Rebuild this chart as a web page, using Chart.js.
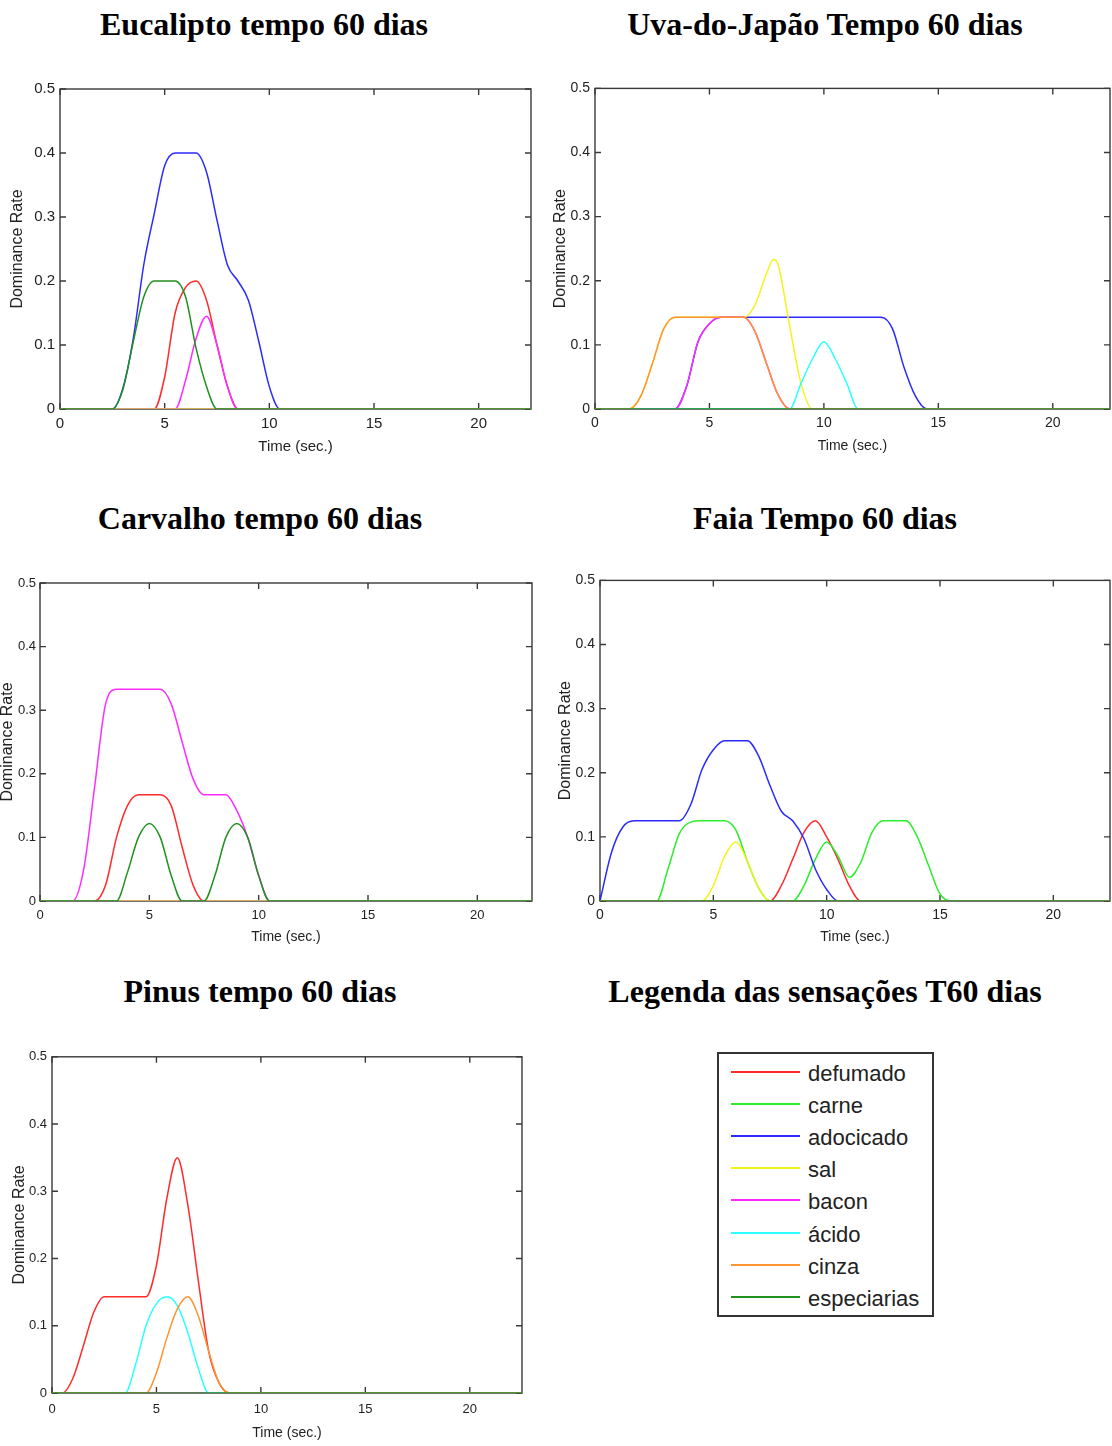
<!DOCTYPE html>
<html>
<head>
<meta charset="utf-8">
<script src="https://cdn.jsdelivr.net/npm/chart.js@4.4.1/dist/chart.umd.min.js"></script>
<style>
  body { margin: 0; width: 1112px; height: 1446px; background: #fff; position: relative; overflow: hidden; }
  .titulo { position: absolute; transform: translate(-50%, -50%); white-space: nowrap; line-height: 1;
            font: bold 32px 'Liberation Serif', 'Times New Roman', serif; color: #000; }
  canvas.painel { position: absolute; }
  #legenda { position: absolute; left: 717px; top: 1052px; width: 213px; height: 261px;
             border: 2px solid #333; font: 22px 'Liberation Sans', Arial, sans-serif; color: #222; }
  #legenda .item { position: absolute; left: 0; height: 0; }
  #legenda .traco { position: absolute; left: 12px; width: 69px; height: 0; border-top: 2px solid; top: -1px; }
  #legenda .nome { position: absolute; left: 89px; top: -11px; white-space: nowrap; }
</style>
</head>
<body>
<div id="legenda"></div>
<script>
// sensations, in drawing order (last one ends up on top)
const sensacoes = ['defumado', 'carne', 'adocicado', 'sal', 'bacon', 'ácido', 'cinza', 'especiarias'];
const cores = ['#ff2b2b', '#2bee2b', '#2b2bff', '#f4f41c', '#ff2bff', '#2bffff', '#ff9433', '#21901f'];

const xTicks = [0, 5, 10, 15, 20];
const yTicks = [0, 0.1, 0.2, 0.3, 0.4, 0.5];

// [time (s), dominance rate]
const flat = [[0, 0], [22.5, 0]];

// Eucalipto
const euc_defumado = [[0, 0], [4.5, 0], [5, 0.05], [5.5, 0.15], [6, 0.19], [6.5, 0.2], [7, 0.17], [7.5, 0.1], [8, 0.035], [8.5, 0], [22.5, 0]];
const euc_adocicado = [[0, 0], [2.5, 0], [3, 0.032], [3.5, 0.11], [4, 0.225], [4.5, 0.305], [5, 0.38], [5.5, 0.4], [6, 0.4], [6.5, 0.4], [7, 0.37], [7.5, 0.295], [8, 0.225], [8.5, 0.2], [9, 0.17], [9.5, 0.105], [10, 0.035], [10.5, 0], [22.5, 0]];
const euc_bacon = [[0, 0], [5.5, 0], [6, 0.045], [6.5, 0.11], [7, 0.145], [7.5, 0.1], [8, 0.035], [8.5, 0], [22.5, 0]];
const euc_especiarias = [[0, 0], [2.5, 0], [3, 0.03], [3.5, 0.105], [4, 0.175], [4.5, 0.2], [5, 0.2], [5.5, 0.2], [6, 0.175], [6.5, 0.095], [7, 0.035], [7.5, 0], [22.5, 0]];

// Uva-do-Japão
const uva_adocicado = [[0, 0], [3.5, 0], [4, 0.035], [4.5, 0.105], [5, 0.133], [5.5, 0.143], [12.5, 0.143], [13, 0.125], [13.5, 0.065], [14, 0.02], [14.5, 0], [22.5, 0]];
const uva_sal = [[0, 0], [1.5, 0], [2, 0.02], [2.5, 0.07], [3, 0.125], [3.5, 0.143], [6.5, 0.143], [7, 0.163], [7.5, 0.212], [7.8, 0.233], [8, 0.225], [8.5, 0.13], [9, 0.04], [9.5, 0], [22.5, 0]];
const uva_bacon = [[0, 0], [3.5, 0], [4, 0.035], [4.5, 0.105], [5, 0.133], [5.5, 0.143], [6.5, 0.143], [7, 0.12], [7.5, 0.07], [8, 0.022], [8.5, 0], [22.5, 0]];
const uva_acido = [[0, 0], [8.5, 0], [9, 0.04], [9.5, 0.078], [10, 0.105], [10.5, 0.078], [11, 0.04], [11.5, 0], [22.5, 0]];
const uva_cinza = [[0, 0], [1.5, 0], [2, 0.02], [2.5, 0.07], [3, 0.125], [3.5, 0.143], [6.5, 0.143], [7, 0.12], [7.5, 0.07], [8, 0.022], [8.5, 0], [22.5, 0]];

// Carvalho
const car_defumado = [[0, 0], [2.5, 0], [3, 0.025], [3.5, 0.1], [4, 0.15], [4.5, 0.167], [5.5, 0.167], [6, 0.15], [6.5, 0.085], [7, 0.025], [7.5, 0], [22.5, 0]];
const car_bacon = [[0, 0], [1.5, 0], [2, 0.05], [2.5, 0.18], [3, 0.31], [3.5, 0.333], [5.5, 0.333], [6, 0.31], [6.5, 0.25], [7, 0.192], [7.5, 0.167], [8.5, 0.167], [9, 0.142], [9.5, 0.1], [10, 0.04], [10.5, 0], [22.5, 0]];
const car_especiarias = [[0, 0], [3.5, 0], [4, 0.045], [4.5, 0.1], [5, 0.122], [5.5, 0.1], [6, 0.04], [6.5, 0], [7.5, 0], [8, 0.04], [8.5, 0.1], [9, 0.122], [9.5, 0.1], [10, 0.04], [10.5, 0], [22.5, 0]];

// Faia
const faia_defumado = [[0, 0], [7.5, 0], [8, 0.024], [8.5, 0.065], [9, 0.107], [9.5, 0.125], [10, 0.1], [10.5, 0.065], [11, 0.024], [11.5, 0], [22.5, 0]];
const faia_carne = [[0, 0], [2.5, 0], [3, 0.05], [3.5, 0.105], [4, 0.123], [4.5, 0.125], [5.5, 0.125], [6, 0.11], [6.5, 0.062], [7, 0.02], [7.5, 0], [8.5, 0], [9, 0.024], [9.5, 0.065], [10, 0.092], [10.5, 0.07], [11, 0.037], [11.5, 0.06], [12, 0.107], [12.5, 0.125], [13.5, 0.125], [14, 0.1], [14.5, 0.055], [15, 0.011], [15.5, 0], [22.5, 0]];
const faia_adocicado = [[0, 0], [0.5, 0.075], [1, 0.115], [1.5, 0.125], [3.5, 0.125], [4, 0.15], [4.5, 0.205], [5, 0.236], [5.5, 0.25], [6.5, 0.25], [7, 0.226], [7.5, 0.18], [8, 0.14], [8.5, 0.125], [9, 0.097], [9.5, 0.05], [10, 0.018], [10.5, 0], [22.5, 0]];
const faia_sal = [[0, 0], [4.5, 0], [5, 0.024], [5.5, 0.07], [6, 0.092], [6.5, 0.062], [7, 0.02], [7.5, 0], [22.5, 0]];

// Pinus
const pin_defumado = [[0, 0], [0.5, 0], [1, 0.022], [1.5, 0.07], [2, 0.12], [2.5, 0.143], [4.5, 0.143], [5, 0.19], [5.5, 0.29], [6, 0.35], [6.5, 0.28], [7, 0.168], [7.5, 0.062], [8, 0.015], [8.5, 0], [22.5, 0]];
const pin_acido = [[0, 0], [3.5, 0], [4, 0.042], [4.5, 0.1], [5, 0.133], [5.5, 0.143], [6, 0.13], [6.5, 0.09], [7, 0.037], [7.5, 0], [22.5, 0]];
const pin_cinza = [[0, 0], [4.5, 0], [5, 0.03], [5.5, 0.082], [6, 0.125], [6.5, 0.143], [7, 0.115], [7.5, 0.062], [8, 0.015], [8.5, 0], [22.5, 0]];

// one list per panel, same order as sensacoes
const eucalipto = [euc_defumado, flat, euc_adocicado, flat, euc_bacon, flat, flat, euc_especiarias];
const uva = [flat, flat, uva_adocicado, uva_sal, uva_bacon, uva_acido, uva_cinza, flat];
const carvalho = [car_defumado, flat, flat, flat, car_bacon, flat, flat, car_especiarias];
const faia = [faia_defumado, faia_carne, faia_adocicado, faia_sal, flat, flat, flat, flat];
const pinus = [pin_defumado, flat, flat, flat, flat, pin_acido, pin_cinza, flat];

const SANS = "'Liberation Sans', Arial, sans-serif";

const paineis = [
  { titulo: 'Eucalipto tempo 60 dias', tx: 264, ty: 24, series: eucalipto,
    box: [60, 87, 531, 409], yTitleX: 18, xTitleY: 447, xLabelY: 424, tickPx: 15, tickPad: 5, xtPx: 15 },
  { titulo: 'Uva-do-Japão Tempo 60 dias', tx: 825, ty: 24, series: uva,
    box: [595, 87, 1110, 409], yTitleX: 561, xTitleY: 447, xLabelY: 423, tickPx: 14, tickPad: 5, xtPx: 14 },
  { titulo: 'Carvalho tempo 60 dias', tx: 260, ty: 518, series: carvalho,
    box: [40, 583, 532, 901], yTitleX: 8, xTitleY: 938, xLabelY: 915, tickPx: 13, tickPad: 4, xtPx: 14 },
  { titulo: 'Faia Tempo 60 dias', tx: 825, ty: 518, series: faia,
    box: [600, 579, 1110, 901], yTitleX: 566, xTitleY: 938, xLabelY: 915, tickPx: 14, tickPad: 5, xtPx: 14 },
  { titulo: 'Pinus tempo 60 dias', tx: 260, ty: 991, series: pinus,
    box: [52, 1056, 522, 1393], yTitleX: 20, xTitleY: 1434, xLabelY: 1409, tickPx: 13, tickPad: 5, xtPx: 14 }
];

// MATLAB-like frame: full box with inward ticks on all four sides
const moldura = {
  id: 'moldura',
  beforeDatasetsDraw(chart) {
    const { ctx, chartArea: a, scales: { x, y } } = chart;
    const tl = 6;
    ctx.save();
    ctx.strokeStyle = '#3a3a3a';
    ctx.lineWidth = 1.4;
    ctx.strokeRect(a.left, a.top, a.right - a.left, a.bottom - a.top);
    ctx.beginPath();
    x.ticks.forEach(t => {
      const px = x.getPixelForValue(t.value);
      ctx.moveTo(px, a.bottom); ctx.lineTo(px, a.bottom - tl);
      ctx.moveTo(px, a.top); ctx.lineTo(px, a.top + tl);
    });
    y.ticks.forEach(t => {
      const py = y.getPixelForValue(t.value);
      ctx.moveTo(a.left, py); ctx.lineTo(a.left + tl, py);
      ctx.moveTo(a.right, py); ctx.lineTo(a.right - tl, py);
    });
    ctx.stroke();
    ctx.restore();
  }
};

function desenhaPainel(p) {
  const [L, T, R, B] = p.box;
  const yTitlePx = 16;
  const left = Math.round(p.yTitleX - yTitlePx * 0.6);
  const top = T - 12;
  const right = Math.min(R + 10, 1112);
  const bottom = Math.round(p.xTitleY + p.xtPx * 0.6);
  const yW = L - left, xH = bottom - B;

  const t = document.createElement('div');
  t.className = 'titulo';
  t.textContent = p.titulo;
  t.style.left = p.tx + 'px';
  t.style.top = p.ty + 'px';
  document.body.appendChild(t);

  const cv = document.createElement('canvas');
  cv.className = 'painel';
  cv.width = right - left;
  cv.height = bottom - top;
  cv.style.left = left + 'px';
  cv.style.top = top + 'px';
  document.body.appendChild(cv);

  new Chart(cv, {
    type: 'line',
    data: {
      datasets: p.series.map((serie, i) => ({
        label: sensacoes[i],
        data: serie.map(([tempo, taxa]) => ({ x: tempo, y: taxa })),
        borderColor: cores[i],
        borderWidth: 1.5,
        pointRadius: 0,
        fill: false,
        cubicInterpolationMode: 'monotone',
        order: sensacoes.length - i
      }))
    },
    options: {
      responsive: false,
      animation: false,
      events: [],
      layout: { padding: { top: T - top, right: right - R, left: 0, bottom: 0 } },
      plugins: { legend: { display: false }, tooltip: { enabled: false } },
      scales: {
        x: {
          type: 'linear', min: 0, max: 22.5,
          grid: { display: false, drawTicks: false },
          border: { display: false },
          afterBuildTicks: s => { s.ticks = xTicks.map(v => ({ value: v })); },
          afterFit: s => { s.height = xH; },
          ticks: { color: '#222', padding: p.xLabelY - B - p.tickPx * 0.6, maxRotation: 0,
                   font: { family: SANS, size: p.tickPx }, callback: v => String(v) },
          title: { display: true, text: 'Time (sec.)', color: '#222', padding: 0,
                   font: { family: SANS, size: p.xtPx } }
        },
        y: {
          min: 0, max: 0.5,
          grid: { display: false, drawTicks: false },
          border: { display: false },
          afterBuildTicks: s => { s.ticks = yTicks.map(v => ({ value: v })); },
          afterFit: s => { s.width = yW; },
          ticks: { color: '#222', padding: p.tickPad, font: { family: SANS, size: p.tickPx }, callback: v => String(v) },
          title: { display: true, text: 'Dominance Rate', color: '#222', padding: 0,
                   font: { family: SANS, size: yTitlePx } }
        }
      }
    },
    plugins: [moldura]
  });
}

paineis.forEach(desenhaPainel);

// legend panel
const tituloLegenda = document.createElement('div');
tituloLegenda.className = 'titulo';
tituloLegenda.textContent = 'Legenda das sensações T60 dias';
tituloLegenda.style.left = '825px';
tituloLegenda.style.top = '991px';
document.body.appendChild(tituloLegenda);

const legenda = document.getElementById('legenda');
sensacoes.forEach((nome, i) => {
  const item = document.createElement('div');
  item.className = 'item';
  item.style.top = (18 + i * 32.1) + 'px';
  item.innerHTML = '<div class="traco" style="border-color:' + cores[i] + '"></div><span class="nome">' + nome + '</span>';
  legenda.appendChild(item);
});
</script>
</body>
</html>
